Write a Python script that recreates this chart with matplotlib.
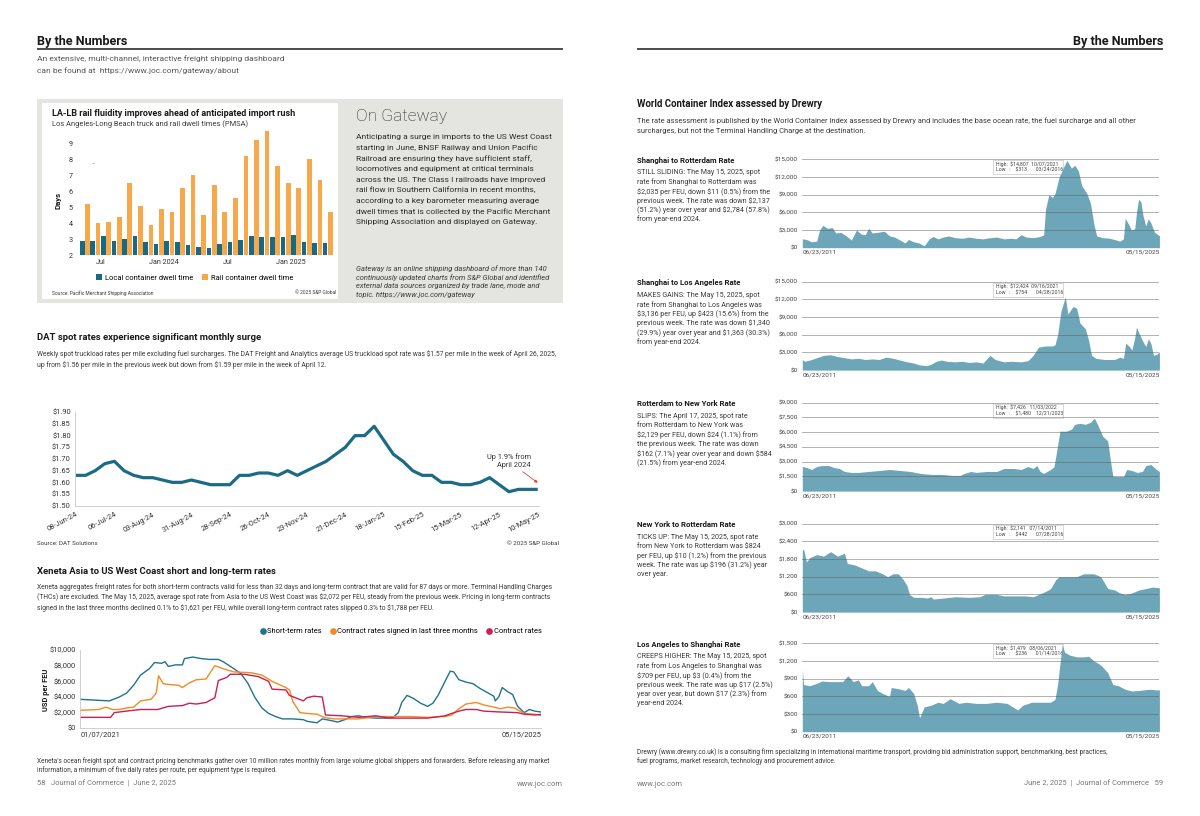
import matplotlib.pyplot as plt
from matplotlib.lines import Line2D
from matplotlib.patches import Rectangle
import numpy as np
import pandas as pd

plt.rcParams['font.family'] = ['Roboto', 'DejaVu Sans']
plt.rcParams['text.parse_math'] = False

# ---------------- data ----------------
# LA-LB dwell times (days), monthly
rail_months = ['May 2023', 'Jun 2023', 'Jul 2023', 'Aug 2023', 'Sep 2023', 'Oct 2023',
               'Nov 2023', 'Dec 2023', 'Jan 2024', 'Feb 2024', 'Mar 2024', 'Apr 2024',
               'May 2024', 'Jun 2024', 'Jul 2024', 'Aug 2024', 'Sep 2024', 'Oct 2024',
               'Nov 2024', 'Dec 2024', 'Jan 2025', 'Feb 2025', 'Mar 2025', 'Apr 2025']
local_dwell = [2.9, 2.9, 3.2, 2.9, 3.0, 3.2, 2.8, 2.7, 2.9, 2.8, 2.6, 2.5,
               2.45, 2.7, 2.8, 2.95, 3.2, 3.15, 3.1, 3.1, 3.25, 2.8, 2.75, 2.75]
rail_dwell = [5.2, 4.0, 4.1, 4.4, 6.5, 5.1, 3.9, 4.9, 4.7, 6.2, 7.0, 4.5,
              6.4, 4.7, 5.6, 8.2, 9.2, 9.8, 7.6, 6.5, 6.2, 8.0, 6.7, 4.7]

# DAT weekly spot rate ($/mile)
dat_weeks = pd.date_range('2024-06-08', '2025-05-10', freq='7D')
dat_rate = [1.63, 1.63, 1.65, 1.68, 1.69, 1.65, 1.63, 1.62, 1.62, 1.61,
            1.60, 1.60, 1.61, 1.60, 1.59, 1.59, 1.59, 1.63, 1.63, 1.64,
            1.64, 1.63, 1.65, 1.63, 1.65, 1.67, 1.69, 1.72, 1.75, 1.80,
            1.80, 1.84, 1.78, 1.72, 1.69, 1.65, 1.63, 1.63, 1.60, 1.60,
            1.59, 1.59, 1.60, 1.62, 1.59, 1.56, 1.57, 1.57, 1.57]

# Xeneta Asia - US West Coast (USD per FEU)
short_dates = ['2021-01-07', '2021-04-17', '2021-05-22', '2021-06-16', '2021-07-10', '2021-08-03',
               '2021-09-02', '2021-09-20', '2021-10-14', '2021-10-26', '2021-11-07', '2021-12-01',
               '2021-12-25', '2022-01-01', '2022-01-30', '2022-02-28', '2022-03-29', '2022-04-28',
               '2022-05-15', '2022-06-21', '2022-07-14', '2022-08-07', '2022-08-31', '2022-09-25',
               '2022-10-18', '2022-11-11', '2022-12-05', '2023-01-10', '2023-02-15', '2023-02-27',
               '2023-04-03', '2023-04-21', '2023-05-20', '2023-06-13', '2023-07-07', '2023-07-31',
               '2023-08-24', '2023-09-17', '2023-10-22', '2023-11-28', '2023-12-22', '2024-01-08',
               '2024-01-20', '2024-02-07', '2024-03-01', '2024-03-25', '2024-04-18', '2024-05-06',
               '2024-05-24', '2024-06-17', '2024-07-05', '2024-07-17', '2024-08-04', '2024-08-28',
               '2024-09-21', '2024-10-15', '2024-11-08', '2024-12-02', '2024-12-07', '2024-12-19',
               '2024-12-31', '2025-01-18', '2025-02-05', '2025-02-22', '2025-03-17', '2025-04-03',
               '2025-04-22', '2025-05-15']
short_vals = [3700, 3500, 4000, 4500, 5500, 6800, 7600, 8400, 8300, 8500, 7900, 8100,
              8100, 8900, 9100, 8900, 8800, 8800, 8500, 7600, 7000, 5800, 4000, 2600,
              1900, 1500, 1200, 1200, 1100, 900, 700, 1200, 1000, 800, 1100, 1500,
              1600, 1400, 1300, 1300, 1400, 2000, 3300, 4200, 3800, 3200, 2800, 3200,
              4200, 6000, 7300, 7200, 6200, 5900, 5700, 5100, 4600, 4100, 3500, 4000,
              5200, 4700, 4300, 2800, 2000, 2400, 2200, 2072]
signed_dates = ['2021-01-07', '2021-03-12', '2021-04-05', '2021-04-29', '2021-05-22', '2021-06-16',
                '2021-07-10', '2021-08-03', '2021-09-08', '2021-09-26', '2021-10-04', '2021-10-20',
                '2021-11-07', '2021-12-13', '2021-12-25', '2022-01-18', '2022-02-11', '2022-03-17',
                '2022-03-29', '2022-04-16', '2022-05-15', '2022-06-21', '2022-08-19', '2022-09-25',
                '2022-10-30', '2022-12-17', '2022-12-29', '2023-01-10', '2023-02-03', '2023-02-27',
                '2023-04-03', '2023-04-27', '2023-06-01', '2023-07-07', '2023-08-24', '2023-10-22',
                '2023-12-22', '2024-02-19', '2024-04-18', '2024-06-17', '2024-07-10', '2024-08-04',
                '2024-08-28', '2024-10-03', '2024-10-27', '2024-12-02', '2024-12-25', '2025-01-18',
                '2025-02-10', '2025-03-17', '2025-04-22', '2025-05-15']
signed_vals = [2300, 2400, 2700, 2400, 2400, 2600, 2700, 3500, 3700, 4500, 6700, 5700,
               5600, 5500, 5200, 5800, 6200, 6300, 7000, 8000, 7600, 7200, 7100, 6800,
               6000, 5200, 4900, 3400, 2000, 1900, 1800, 1400, 1200, 1200, 1200, 1500,
               1500, 1500, 1400, 1500, 1700, 2500, 3100, 3300, 3000, 2700, 2500, 2700,
               2600, 1900, 1800, 1621]
contract_dates = ['2021-01-07', '2021-04-22', '2021-05-04', '2021-06-16', '2021-08-03', '2021-10-01',
                  '2021-11-07', '2021-12-25', '2022-01-18', '2022-02-11', '2022-03-17', '2022-04-16',
                  '2022-04-28', '2022-05-27', '2022-06-08', '2022-07-26', '2022-09-13', '2022-10-18',
                  '2022-10-30', '2022-12-17', '2022-12-29', '2023-02-15', '2023-02-27', '2023-03-22',
                  '2023-04-21', '2023-05-02', '2023-06-25', '2023-08-24', '2023-10-22', '2023-12-07',
                  '2024-01-27', '2024-04-18', '2024-06-17', '2024-07-10', '2024-08-04', '2024-08-28',
                  '2024-10-03', '2024-10-27', '2024-12-13', '2025-02-22', '2025-03-17', '2025-04-22',
                  '2025-05-15']
contract_vals = [1400, 1400, 2000, 2200, 2400, 2400, 2800, 2900, 3200, 3100, 3300, 3900,
                 6100, 6500, 6900, 6900, 6600, 6000, 5000, 4900, 4200, 3500, 3900, 4100,
                 4000, 1700, 1600, 1400, 1600, 1300, 1300, 1300, 1600, 1900, 2200, 2400,
                 2400, 2200, 2100, 2000, 1800, 1700, 1788]

# Drewry WCI routes (decimal year, USD per FEU)
sr_year = [2011.48, 2011.64, 2011.84, 2012.04, 2012.15, 2012.28, 2012.45, 2012.65, 2012.78, 2012.98,
           2013.19, 2013.39, 2013.59, 2013.77, 2013.93, 2014.06, 2014.20, 2014.40, 2014.67, 2014.87,
           2015.07, 2015.28, 2015.48, 2015.61, 2015.81, 2016.02, 2016.22, 2016.42, 2016.56, 2016.76,
           2016.96, 2017.16, 2017.43, 2017.70, 2017.97, 2018.24, 2018.51, 2018.78, 2019.05, 2019.32,
           2019.59, 2019.79, 2019.99, 2020.19, 2020.46, 2020.73, 2020.87, 2020.94, 2021.07, 2021.21,
           2021.31, 2021.47, 2021.68, 2021.77, 2021.95, 2022.08, 2022.22, 2022.35, 2022.55, 2022.69,
           2022.82, 2022.93, 2023.16, 2023.43, 2023.70, 2023.83, 2023.97, 2024.04, 2024.17, 2024.28,
           2024.41, 2024.48, 2024.56, 2024.65, 2024.73, 2024.84, 2024.94, 2025.04, 2025.18, 2025.37]
sr_rate = [1500, 1400, 1000, 1100, 3000, 3800, 3300, 3400, 2500, 2600,
           2000, 1300, 3000, 2300, 2200, 3300, 2500, 2600, 2800, 2000,
           1800, 1300, 800, 1400, 1000, 800, 313, 1500, 1900, 1500,
           1800, 2000, 1700, 1600, 1800, 1600, 1500, 1700, 1800, 1500,
           1600, 1500, 2200, 1800, 1700, 1900, 2200, 6500, 9000, 8500,
           9200, 12000, 14000, 14807, 13500, 14000, 13000, 10500, 9200, 7500,
           4000, 2000, 1700, 1600, 1300, 1100, 1500, 5000, 4000, 3000,
           3200, 6000, 8200, 7800, 5500, 3700, 4900, 4200, 2600, 2035]

sla_year = [2011.48, 2011.57, 2011.77, 2012.04, 2012.31, 2012.58, 2012.85, 2013.12, 2013.39, 2013.66,
            2013.93, 2014.20, 2014.47, 2014.74, 2015.01, 2015.28, 2015.55, 2015.81, 2016.02, 2016.32,
            2016.49, 2016.69, 2016.89, 2017.10, 2017.43, 2017.70, 2017.97, 2018.24, 2018.51, 2018.78,
            2018.98, 2019.32, 2019.59, 2019.99, 2020.26, 2020.46, 2020.67, 2020.94, 2021.21, 2021.31,
            2021.41, 2021.54, 2021.71, 2021.81, 2022.01, 2022.15, 2022.28, 2022.49, 2022.62, 2022.73,
            2022.89, 2023.23, 2023.63, 2023.83, 2023.97, 2024.06, 2024.20, 2024.30, 2024.41, 2024.48,
            2024.57, 2024.71, 2024.84, 2024.94, 2025.04, 2025.14, 2025.28, 2025.37]
sla_rate = [1800, 1500, 1700, 2100, 2500, 2600, 2300, 2100, 1900, 2000,
            1800, 1900, 1800, 2200, 2000, 1700, 1400, 1200, 900, 754,
            1000, 1500, 1700, 1500, 1400, 1500, 1300, 1400, 1200, 2500,
            1800, 1400, 1500, 1400, 1600, 2500, 3900, 4100, 4100, 4300,
            6000, 10000, 12424, 9500, 10800, 10500, 8000, 7000, 5000, 2500,
            2000, 1800, 1800, 2200, 2000, 4600, 4000, 3400, 5500, 7300,
            6300, 5000, 4000, 5300, 4500, 2500, 2700, 3136]

rny_year = [2011.48, 2011.64, 2011.84, 2012.04, 2012.24, 2012.51, 2012.71, 2012.92, 2013.12, 2013.39,
            2013.66, 2014.06, 2014.47, 2014.87, 2015.28, 2015.68, 2016.08, 2016.49, 2016.89, 2017.30,
            2017.63, 2017.77, 2018.04, 2018.24, 2018.64, 2019.05, 2019.32, 2019.72, 2019.99, 2020.26,
            2020.46, 2020.60, 2020.73, 2020.87, 2021.00, 2021.14, 2021.27, 2021.37, 2021.50, 2021.75,
            2021.95, 2022.08, 2022.28, 2022.49, 2022.69, 2022.84, 2022.96, 2023.16, 2023.36, 2023.47,
            2023.56, 2023.97, 2024.10, 2024.30, 2024.50, 2024.71, 2024.84, 2025.04, 2025.25, 2025.37]
rny_rate = [2500, 2400, 2200, 2500, 2600, 2600, 2400, 2300, 2000, 1900,
            1900, 2000, 2100, 2200, 2100, 2000, 1800, 1700, 1700, 1600,
            1600, 1800, 2000, 1900, 2000, 2000, 2300, 2300, 2200, 2500,
            2300, 2600, 2000, 1800, 2000, 2200, 2500, 4000, 6100, 6100,
            6300, 6800, 6900, 6800, 7000, 7426, 6800, 5600, 5100, 3000,
            1500, 1480, 2200, 2100, 1900, 2000, 2600, 2700, 2200, 2000]

nyr_year = [2011.48, 2011.53, 2011.64, 2011.77, 2012.04, 2012.31, 2012.58, 2012.85, 2013.12, 2013.23,
            2013.52, 2013.79, 2014.06, 2014.33, 2014.60, 2014.80, 2015.01, 2015.21, 2015.41, 2015.55,
            2015.65, 2015.81, 2016.08, 2016.35, 2016.49, 2016.57, 2016.89, 2017.43, 2017.97, 2018.38,
            2018.58, 2019.05, 2019.32, 2019.72, 2020.13, 2020.46, 2020.67, 2020.94, 2021.14, 2021.34,
            2021.47, 2021.75, 2022.15, 2022.42, 2022.82, 2023.09, 2023.36, 2023.63, 2023.83, 2024.04,
            2024.30, 2024.57, 2024.84, 2025.11, 2025.37]
nyr_rate = [2100, 2141, 1700, 1850, 1950, 1900, 2050, 1900, 2000, 1650,
            1600, 1500, 1400, 1400, 1300, 1200, 1300, 1300, 1100, 900,
            600, 500, 500, 480, 520, 442, 470, 520, 500, 520,
            600, 600, 550, 550, 550, 520, 600, 700, 800, 1100,
            1200, 1200, 1200, 1300, 1300, 1200, 800, 750, 650, 600,
            650, 750, 800, 850, 824]

las_year = [2011.48, 2011.53, 2011.77, 2012.04, 2012.24, 2012.51, 2012.85, 2013.05, 2013.25, 2013.46,
            2013.66, 2013.79, 2014.06, 2014.20, 2014.40, 2014.60, 2014.87, 2014.94, 2015.21, 2015.48,
            2015.61, 2015.81, 2015.95, 2016.04, 2016.22, 2016.49, 2016.76, 2016.96, 2017.23, 2017.57,
            2017.84, 2018.24, 2018.64, 2019.05, 2019.45, 2019.66, 2019.86, 2020.06, 2020.40, 2020.80,
            2021.14, 2021.31, 2021.41, 2021.59, 2021.68, 2021.88, 2022.15, 2022.42, 2022.62, 2022.82,
            2023.03, 2023.16, 2023.36, 2023.56, 2023.77, 2024.04, 2024.30, 2024.57, 2024.98, 2025.25,
            2025.37]
las_rate = [1050, 800, 780, 820, 860, 850, 850, 850, 950, 850,
            880, 780, 780, 850, 700, 650, 600, 750, 730, 700,
            750, 650, 450, 236, 420, 450, 500, 480, 560, 480,
            500, 480, 480, 500, 480, 420, 370, 450, 500, 500,
            500, 550, 800, 1479, 1350, 1300, 1270, 1270, 1280, 1200,
            1150, 1100, 1000, 800, 780, 720, 690, 700, 720, 710,
            709]

drewry_series = [(sr_year, sr_rate), (sla_year, sla_rate), (rny_year, rny_rate),
                 (nyr_year, nyr_rate), (las_year, las_rate)]
drewry_ymax = [15000, 15000, 9000, 3000, 1500]
drewry_step = [3000, 3000, 1500, 600, 300]
drewry_high = ['High:  $14,807  10/07/2021', 'High:  $12,424  09/16/2021', 'High:  $7,426   11/03/2022',
               'High:  $2,141   07/14/2011', 'High:  $1,479   08/06/2021']
drewry_low = ['Low   :    $313       03/24/2016', 'Low   :    $754       04/28/2016',
              'Low   :    $1,480    12/21/2023', 'Low   :    $442       07/28/2016',
              'Low   :    $236       01/14/2016']
drewry_titles = ['Shanghai to Rotterdam Rate', 'Shanghai to Los Angeles Rate', 'Rotterdam to New York Rate',
                 'New York to Rotterdam Rate', 'Los Angeles to Shanghai Rate']
drewry_notes = [
    ['STILL SLIDING: The May 15, 2025, spot', 'rate from Shanghai to Rotterdam was',
     '$2,035 per FEU, down $11 (0.5%) from the', 'previous week. The rate was down $2,137',
     '(51.2%) year over year and $2,784 (57.8%)', 'from year-end 2024.'],
    ['MAKES GAINS: The May 15, 2025, spot', 'rate from Shanghai to Los Angeles was',
     '$3,136 per FEU, up $423 (15.6%) from the', 'previous week. The rate was down $1,340',
     '(29.9%) year over year and $1,363 (30.3%)', 'from year-end 2024.'],
    ['SLIPS: The April 17, 2025, spot rate', 'from Rotterdam to New York was',
     '$2,129 per FEU, down $24 (1.1%) from', 'the previous week. The rate was down',
     '$162 (7.1%) year over year and down $584', '(21.5%) from year-end 2024.'],
    ['TICKS UP: The May 15, 2025, spot rate', 'from New York to Rotterdam was $824',
     'per FEU, up $10 (1.2%) from the previous', 'week. The rate was up $196 (31.2%) year',
     'over year.'],
    ['CREEPS HIGHER: The May 15, 2025, spot', 'rate from Los Angeles to Shanghai was',
     '$709 per FEU, up $3 (0.4%) from the', 'previous week. The rate was up $17 (2.5%)',
     'year over year, but down $17 (2.3%) from', 'year-end 2024.'],
]

TEAL = '#176a86'
ORANGE = '#f7a84a'
AREA = '#6da6b8'
INK = '#1a1a1a'
BODY = '#3a3a3a'

# ---------------- page setup (pixel coordinates, y down) ----------------
W, H = 1200, 816
fig = plt.figure(figsize=(W / 100, H / 100), dpi=100)
fig.patch.set_facecolor('white')

page = fig.add_axes([0, 0, 1, 1])
page.set_xlim(0, W)
page.set_ylim(H, 0)
page.axis('off')


def place(x0, y0, x1, y1):
    ax = fig.add_axes([x0 / W, 1 - y1 / H, (x1 - x0) / W, (y1 - y0) / H])
    ax.set_facecolor('none')
    return ax


def put(x, y, s, size=4.5, color=BODY, **kw):
    kw.setdefault('va', 'center')
    page.text(x, y, s, fontsize=size, color=color, **kw)


def para(x, y, lines, step, **kw):
    for i, line in enumerate(lines):
        put(x, y + i * step, line, **kw)


# headers and footers
put(37, 41, 'By the Numbers', size=9.1, color=INK, weight='bold')
put(1163, 41, 'By the Numbers', size=9.1, color=INK, weight='bold', ha='right')
page.hlines(49, 37, 563, color=INK, lw=1.1)
page.hlines(49, 637, 1163, color=INK, lw=1.1)
para(37, 59, ['An extensive, multi-channel, interactive freight shipping dashboard',
              'can be found at  https://www.joc.com/gateway/about'], 12, size=6.0, color='#555555')
put(37, 784, '58   Journal of Commerce  |  June 2, 2025', size=5.4, color='#777777')
put(563, 784, 'www.joc.com', size=5.4, color='#777777', ha='right')
put(637, 784, 'www.joc.com', size=5.4, color='#777777')
put(1163, 784, 'June 2, 2025  |  Journal of Commerce   59', size=5.4, color='#777777', ha='right')

# ---------------- LA-LB rail box ----------------
page.add_patch(Rectangle((37, 99), 526, 204, color='#e4e4e0', lw=0))
page.add_patch(Rectangle((42, 103), 296, 196, color='white', lw=0))
put(52, 114, 'LA-LB rail fluidity improves ahead of anticipated import rush', size=6.5, color=INK, weight='bold')
put(52, 124, 'Los Angeles-Long Beach truck and rail dwell times (PMSA)', size=5.4)

ax = place(78.3, 127.4, 333.3, 255)
pos = np.arange(len(rail_months))
ax.bar(pos - 0.25, local_dwell, 0.44, color=TEAL, label='Local container dwell time')
ax.bar(pos + 0.25, rail_dwell, 0.44, color=ORANGE, label='Rail container dwell time')
ax.set_xlim(-0.62, 23.52)
ax.set_ylim(2, 10)
ax.set_yticks(range(2, 10))
ticks = [(i - 0.5, m if m.startswith('Jan') else m.split()[0])
         for i, m in enumerate(rail_months) if m.startswith(('Jan', 'Jul'))]
ax.set_xticks([t[0] for t in ticks])
ax.set_xticklabels([t[1] for t in ticks])
ax.tick_params(length=0, labelsize=5.2, colors='#333333')
ax.tick_params(axis='y', pad=4)
ax.tick_params(axis='x', pad=3)
for s in ax.spines.values():
    s.set_visible(False)
ax.legend(loc='center', bbox_to_anchor=(195 / W, 1 - 278 / H), bbox_transform=fig.transFigure,
          ncol=2, frameon=False, fontsize=5.4, handlelength=0.8, handleheight=0.8,
          handletextpad=0.4, columnspacing=1.2, borderpad=0)
put(58, 200, 'Days', size=5.6, color=INK, weight='bold', rotation=90, ha='center')
put(92, 164, '–', size=3.5, color='#777777')
put(52, 293, 'Source: Pacific Merchant Shipping Association', size=3.5)
put(336, 293, '© 2025 S&P Global', size=3.5, ha='right')

put(356, 116, 'On Gateway', size=12.5, color='#222222', weight='light')
para(356, 137.3, ['Anticipating a surge in imports to the US West Coast',
                  'starting in June, BNSF Railway and Union Pacific',
                  'Railroad are ensuring they have sufficient staff,',
                  'locomotives and equipment at critical terminals',
                  'across the US. The Class I railroads have improved',
                  'rail flow in Southern California in recent months,',
                  'according to a key barometer measuring average',
                  'dwell times that is collected by the Pacific Merchant',
                  'Shipping Association and displayed on Gateway.'], 10.6, size=6.0, color='#2a2a2a')
para(356, 268.3, ['Gateway is an online shipping dashboard of more than 140',
                  'continuously updated charts from S&P Global and identified',
                  'external data sources organized by trade lane, mode and',
                  'topic. https://www.joc.com/gateway'], 9.0, size=5.4, style='italic')

# ---------------- DAT spot rates ----------------
put(37, 337, 'DAT spot rates experience significant monthly surge', size=6.8, color=INK, weight='bold')
para(37, 354, ['Weekly spot truckload rates per mile excluding fuel surcharges. The DAT Freight and Analytics '
               'average US truckload spot rate was $1.57 per mile in the week of April 26, 2025,',
               'up from $1.56 per mile in the previous week but down from $1.59 per mile in the week of April 12.'],
     10.7, size=4.9)

ax = place(75, 412.3, 538.7, 505.7)
idx = np.arange(len(dat_weeks))
ax.plot(idx, dat_rate, color='#1b6b87', lw=2.3, solid_joinstyle='round', solid_capstyle='butt')
ax.set_xlim(-0.1, 48.1)
ax.set_ylim(1.5, 1.9)
yt = np.round(np.arange(1.5, 1.91, 0.05), 2)
ax.set_yticks(yt)
ax.set_yticklabels([f'${v:.2f}' for v in yt])
ax.set_xticks(idx[::4])
ax.set_xticklabels(dat_weeks[::4].strftime('%d-%b-%y'), rotation=28, ha='right', rotation_mode='anchor')
ax.tick_params(length=0, labelsize=5.4, colors='#333333')
ax.tick_params(axis='y', pad=3)
ax.tick_params(axis='x', pad=4)
for k, s in ax.spines.items():
    s.set_visible(k in ('left', 'bottom'))
    s.set_color('#c9c9c9')
    s.set_linewidth(0.6)
ax.annotate('Up 1.9% from\nApril 2024', xy=(idx[-1], 1.598), xytext=(-5, 10), textcoords='offset points',
            ha='right', va='bottom', fontsize=5.3, color='#333333', linespacing=1.1,
            arrowprops=dict(arrowstyle='-|>', color='#e53b2c', lw=0.6, mutation_scale=4,
                            shrinkA=0, shrinkB=0))
put(37, 543.3, 'Source: DAT Solutions', size=4.4)
put(559, 543.3, '© 2025 S&P Global', size=4.4, ha='right')

# ---------------- Xeneta ----------------
put(37, 571.7, 'Xeneta Asia to US West Coast short and long-term rates', size=6.8, color=INK, weight='bold')
para(37, 587.3, ['Xeneta aggregates freight rates for both short-term contracts valid for less than 32 days and '
                 'long-term contract that are valid for 87 days or more. Terminal Handling Charges',
                 '(THCs) are excluded. The May 15, 2025, average spot rate from Asia to the US West Coast was '
                 '$2,072 per FEU, steady from the previous week. Pricing in long-term contracts',
                 'signed in the last three months declined 0.1% to $1,621 per FEU, while overall long-term '
                 'contract rates slipped 0.3% to $1,788 per FEU.'], 10.2, size=4.9)

ax = place(80.2, 650, 541.4, 728.3)
series = [(short_dates, short_vals, '#1f7390', 'Short-term rates'),
          (signed_dates, signed_vals, '#f08c23', 'Contract rates signed in last three months'),
          (contract_dates, contract_vals, '#cc1f51', 'Contract rates')]
for dates, vals, col, lab in series:
    ax.plot(pd.to_datetime(dates), vals, color=col, lw=1.0)
t0, t1 = pd.Timestamp(short_dates[0]), pd.Timestamp(short_dates[-1])
ax.set_xlim(t0, t1)
ax.set_ylim(0, 10000)
ax.set_yticks(range(0, 10001, 2000))
ax.set_yticklabels([f'${v:,}' for v in range(0, 10001, 2000)])
ax.set_xticks([t0, t1])
ax.set_xticklabels([t0.strftime('%m/%d/%Y'), t1.strftime('%m/%d/%Y')])
xl = ax.get_xticklabels()
xl[0].set_ha('left')
xl[1].set_ha('right')
ax.tick_params(length=0, labelsize=5.4, colors='#333333')
ax.tick_params(axis='y', pad=3)
ax.tick_params(axis='x', pad=2)
for k, s in ax.spines.items():
    s.set_visible(k in ('left', 'bottom'))
    s.set_color('#c9c9c9')
    s.set_linewidth(0.6)
handles = [Line2D([], [], marker='o', ls='none', color=c, markersize=3.8, label=l) for _, _, c, l in series]
ax.legend(handles=handles, loc='center right', bbox_to_anchor=(1.0, 1 + (650 - 631.7) / 78.3),
          ncol=3, frameon=False, fontsize=5.4, handlelength=0.6, handletextpad=0.35,
          columnspacing=1.1, borderaxespad=0, borderpad=0)
put(46, 690, 'USD per FEU', size=5.4, color=INK, weight='bold', rotation=90, ha='center')
para(37, 761, ["Xeneta's ocean freight spot and contract pricing benchmarks gather over 10 million rates monthly "
               "from large volume global shippers and forwarders. Before releasing any market",
               'information, a minimum of five daily rates per route, per equipment type is required.'],
     9.4, size=4.7)

# ---------------- Drewry WCI ----------------
put(637, 104, 'World Container Index assessed by Drewry', size=6.9, color=INK, weight='bold')
para(637, 120.7, ['The rate assessment is published by the World Container Index assessed by Drewry and includes '
                  'the base ocean rate, the fuel surcharge and all other',
                  'surcharges, but not the Terminal Handling Charge at the destination.'], 10, size=5.45)

drewry_top = [159.3, 281.7, 402.7, 523.7, 643.3]
for k, (years, rates) in enumerate(drewry_series):
    top = drewry_top[k]
    put(637, top + 1, drewry_titles[k], size=5.6, color=INK, weight='bold')
    para(637, top + 13.6, drewry_notes[k], 9.33, size=5.1)

    # high / low box (sits behind the area, as in the source)
    page.add_patch(Rectangle((992.6, top + 1), 70, 14, facecolor='white', edgecolor='#c8c8c8', lw=0.5))
    put(995.5, top + 5, drewry_high[k], size=3.7, color='#444444')
    put(995.5, top + 11, drewry_low[k], size=3.7, color='#444444')

    ax = place(802.3, top, 1159.4, top + 88.4)
    ax.fill_between(years, rates, color=AREA, lw=0)
    ymax = drewry_ymax[k]
    ax.set_xlim(years[0], years[-1])
    ax.set_ylim(0, ymax)
    yt = np.arange(0, ymax + 1, drewry_step[k])
    ax.set_yticks(yt)
    ax.set_yticklabels([f'${v:,.0f}' for v in yt])
    ax.set_xticks([years[0], years[-1]])
    ax.set_xticklabels(['06/23/2011', '05/15/2025'])
    xl = ax.get_xticklabels()
    xl[0].set_ha('left')
    xl[1].set_ha('right')
    ax.grid(axis='y', color='#5a5a5a', lw=0.6, alpha=0.55)
    ax.set_axisbelow(False)
    ax.tick_params(length=0, labelsize=4.6, colors='#444444')
    ax.tick_params(axis='y', pad=3)
    ax.tick_params(axis='x', pad=1.5)
    for s in ax.spines.values():
        s.set_visible(False)

para(637, 752, ['Drewry (www.drewry.co.uk) is a consulting firm specializing in international maritime transport, '
                'providing bid administration support, benchmarking, best practices,',
                'fuel programs, market research, technology and procurement advice.'], 9.3, size=4.7)

fig.savefig('out.png', dpi=100)
